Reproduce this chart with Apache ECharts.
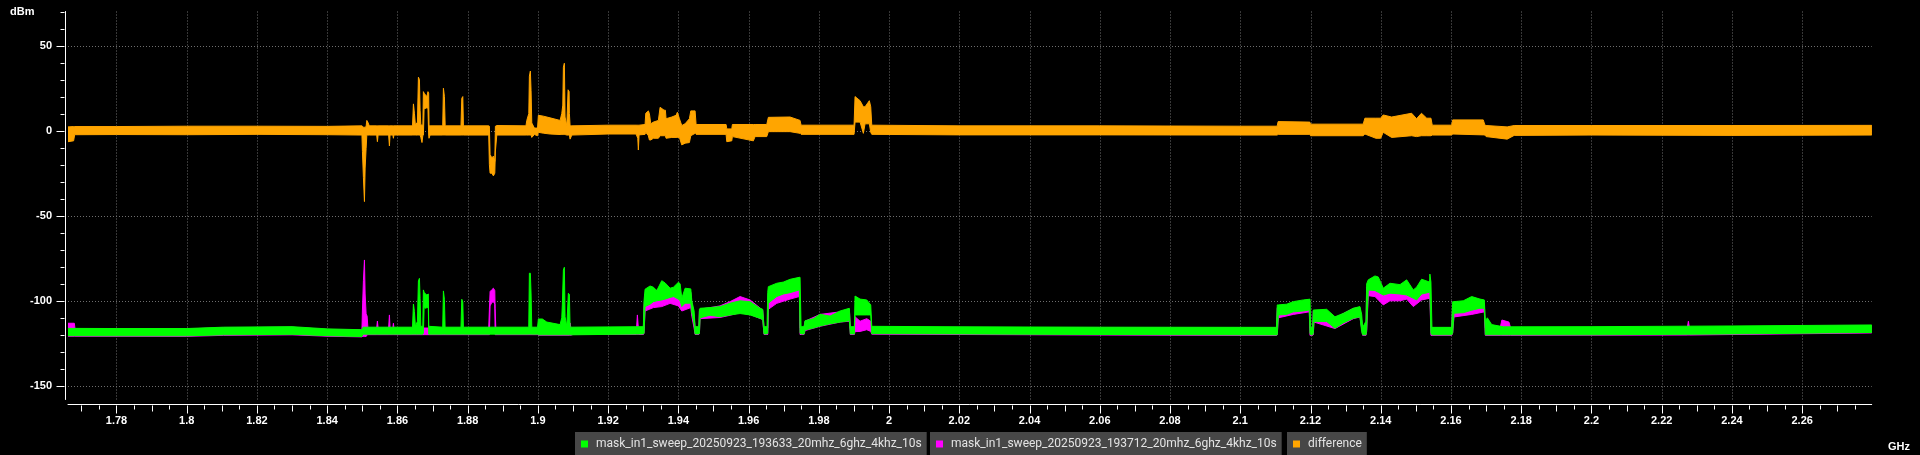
<!DOCTYPE html>
<html><head><meta charset="utf-8">
<script src="https://cdn.jsdelivr.net/npm/echarts@6/dist/echarts.min.js"></script>
<style>html,body{margin:0;padding:0;background:#000;}#c{width:1920px;height:455px;}</style>
</head><body><div id="c"></div><script>
// ---- data (GHz, dBm) : each entry [frequency, band low, band high] ----
const seriesNames = ['mask_in1_sweep_20250923_193633_20mhz_6ghz_4khz_10s','mask_in1_sweep_20250923_193712_20mhz_6ghz_4khz_10s','difference'];
const xTickLabels = [1.78,1.8,1.82,1.84,1.86,1.88,1.9,1.92,1.94,1.96,1.98,2,2.02,2.04,2.06,2.08,2.1,2.12,2.14,2.16,2.18,2.2,2.22,2.24,2.26];
const yTickLabels = [50,0,-50,-100,-150];

const greenBand = [
 [1.7662,-120.5,-116.2],[1.78,-120.6,-116.3],[1.80,-120.6,-116.3],[1.8105,-120,-115.5],[1.83,-119.7,-115.2],[1.84,-120.5,-116.5],[1.8499,-121,-117],[1.8502,-119.6,-115.5],
 [1.8643,-119.6,-115.5],[1.86456,-119.6,-101.9],[1.86484,-119.6,-106.3],[1.86513,-119.6,-115],[1.8657,-119.6,-112],[1.86598,-119.6,-88.3],[1.86627,-119.6,-86.8],[1.86646,-119.6,-98.5],[1.86666,-119.6,-115],[1.86723,-119.6,-115],
 [1.8674,-119,-93.6],[1.8676,-104,-95],[1.8680,-104.4,-96],[1.8684,-104,-96.6],[1.8688,-104,-96],[1.86892,-119.6,-115],
 [1.8729,-119.6,-115.5],[1.8731,-119.6,-94.2],[1.87338,-119.6,-99.1],[1.87358,-119.6,-115.5],
 [1.8781,-119.6,-115.5],[1.87833,-119.6,-99.1],[1.87862,-119.6,-100.7],[1.87879,-119.6,-115.5],
 [1.8974,-119.6,-115.5],[1.89758,-119.6,-83.8],[1.89786,-119.6,-83.8],[1.89806,-119.6,-96],[1.89826,-119.6,-115.5],
 [1.8999,-119.6,-115.5],[1.90014,-120,-110.7],[1.90128,-120,-110.7],[1.90254,-120,-112.5],[1.90632,-120,-114],[1.9068,-120,-110],[1.90697,-120,-101.9],[1.90726,-120,-81.9],[1.90754,-120,-80.3],[1.90774,-120,-109.4],[1.90823,-120,-115],[1.90868,-120,-95.6],[1.90897,-120,-96.2],[1.90917,-120,-115.5],
 [1.93003,-119.5,-115.2],[1.93023,-119,-100],[1.93052,-103.4,-93.2],[1.93194,-102,-91.3],[1.93289,-100.5,-92],[1.93386,-100,-94],[1.93527,-99.5,-88.2],[1.93623,-99,-89.5],[1.93765,-98,-92.6],[1.9386,-97.5,-92],[1.94002,-99,-89.1],[1.9405,-100,-90],[1.94098,-103.4,-98.5],[1.94192,-101.4,-92.6],[1.94354,-101.4,-93],[1.94383,-107,-100],[1.94448,-114,-106],[1.94476,-119.5,-115.2],
 [1.94582,-119.5,-115.2],[1.946,-119,-105],[1.94618,-110,-104.4],[1.94903,-108.5,-104],[1.95187,-109.4,-103.4],[1.95472,-108.3,-101.4],[1.95757,-107.5,-100],[1.96041,-108.3,-100.5],[1.96326,-110.3,-104.4],[1.96402,-111,-105],[1.96439,-119.5,-115.2],
 [1.96525,-119.5,-115.2],[1.96545,-119,-95],[1.96562,-101.4,-91.7],[1.96801,-97.5,-89.7],[1.9699,-96,-89],[1.9718,-95.2,-87.4],[1.97445,-93.6,-86.2],[1.97465,-119,-86.2],[1.97494,-119.5,-115.2],
 [1.97579,-119.5,-115.2],[1.97607,-117.1,-111.7],[1.97844,-116,-110.5],[1.98034,-114.8,-107.9],[1.98319,-113.5,-109],[1.98604,-112.5,-106],[1.98869,-111.7,-104.4],[1.98897,-119.5,-115.2],
 [1.99011,-119.5,-115.2],[1.99031,-108.3,-97.2],[1.99174,-108.3,-99],[1.99364,-108.3,-99.5],[1.99478,-108.3,-102.4],[1.99507,-119.3,-115],
 [2.02,-119.5,-115.3],[2.06,-119.8,-115.5],[2.1103,-120.1,-115.6],
 [2.11054,-120,-102.4],[2.11083,-108.3,-102.4],[2.11322,-108,-102],[2.11509,-106.5,-100.5],[2.11794,-106,-99.5],[2.11965,-105.4,-99.1],[2.11985,-119,-99],[2.12005,-120,-115.6],[2.12062,-120,-115.6],[2.12079,-119,-105.4],[2.12099,-112.2,-105.4],[2.1246,-112.2,-105],[2.12697,-116.1,-109.4],[2.12933,-113,-107.4],[2.13218,-110.3,-104.4],[2.13408,-109.4,-103.4],[2.13457,-118,-108],[2.13485,-120,-115.6],[2.1358,-120,-112],[2.13599,-117,-90],
 [2.13645,-93.6,-87.7],[2.13835,-94,-85.4],[2.1393,-95,-86],[2.14072,-96.6,-92.6],[2.14263,-95.5,-89.7],[2.14548,-96,-90.5],[2.14738,-96.6,-87.7],[2.14927,-98.5,-93.6],[2.15022,-99.5,-92],[2.15164,-96,-87.3],[2.1539,-95,-89],[2.154,-95,-84.3],[2.15429,-119,-89],[2.15458,-120,-115.6],
 [2.16019,-120,-115.6],[2.16048,-119,-100.5],[2.16085,-107.3,-100.5],[2.1635,-107,-100],[2.1659,-105.5,-97.5],[2.16826,-104.4,-99],[2.16949,-104.4,-99.5],[2.16978,-120,-112],[2.17035,-120,-110],[2.1716,-120,-114],[2.175,-120,-115.3],
 [2.20,-120,-115.2],[2.24,-119.5,-114.8],[2.2798,-118.6,-114.2]
];

const magentaBand = [
 [1.7662,-120.8,-113.2],[1.7680,-120.8,-113.2],[1.7682,-120.8,-116.5],[1.80,-120.9,-116.5],[1.8105,-120.3,-115.8],[1.83,-120,-115.5],[1.84,-120.8,-116.8],[1.8499,-121.2,-117.2],
 [1.85004,-121,-105.4],[1.85032,-121,-88.2],[1.85061,-121,-76],[1.85081,-121,-96],[1.85109,-121,-107.7],[1.85137,-120,-109],[1.8516,-119.9,-116],
 [1.8541,-119.9,-116],[1.8543,-119.9,-111.9],[1.8545,-119.9,-116],
 [1.8575,-119.9,-116],[1.85772,-119.9,-108.3],[1.8579,-119.9,-116],
 [1.8587,-119.9,-116],[1.85886,-119.9,-113.2],[1.8590,-119.9,-116],
 [1.8860,-119.9,-116],[1.88619,-119.9,-105],[1.88639,-103,-94.6],[1.88687,-101,-93.5],[1.88733,-100.5,-92.6],[1.88773,-102,-94],[1.88782,-119.9,-104.4],[1.88802,-119.9,-116],
 [1.8999,-119.9,-116],[1.90014,-120.2,-116],[1.9090,-120.2,-116],[1.90917,-120.2,-113],[1.9094,-120.2,-116],[1.9100,-119.8,-116],
 [1.9281,-119.8,-116],[1.92833,-119.8,-108.3],[1.9286,-119.8,-116],
 [1.93003,-119.8,-116],[1.93023,-119,-103],[1.93052,-106,-96],[1.93289,-104,-95],[1.93527,-103.4,-92],[1.93765,-101.5,-95.6],[1.94002,-103,-92.5],[1.94098,-106,-100],[1.94354,-104,-95],[1.94383,-109,-102],[1.94448,-116,-109],[1.94476,-119.8,-116],
 [1.94582,-119.8,-116],[1.946,-119,-106],[1.94618,-110.5,-105],[1.95187,-109.8,-103],[1.95472,-108.5,-100.5],[1.95757,-107,-97.5],[1.96041,-108,-99.5],[1.96402,-111,-105.5],[1.96439,-119.8,-116],
 [1.96545,-119.8,-116],[1.96562,-105,-96],[1.96801,-101.5,-94],[1.9718,-99,-92],[1.97445,-97.5,-90.5],[1.97465,-119.8,-116],
 [1.97579,-119.8,-116],[1.97607,-117.5,-112],[1.98034,-115,-108],[1.98604,-112.5,-106.5],[1.98869,-112,-105],[1.98897,-119.8,-116],
 [1.99011,-119.8,-116],[1.99031,-118.1,-109.4],[1.99174,-118,-112],[1.99364,-117,-110.5],[1.99478,-118,-112],[1.99507,-119.6,-116],
 [2.02,-119.8,-115.6],[2.06,-120.1,-115.8],[2.1103,-120.4,-116],[2.11054,-120,-104],[2.11083,-110,-104],[2.11509,-108,-102],[2.11965,-106.5,-100.5],[2.11985,-120.3,-116],
 [2.12062,-120.3,-116],[2.12079,-120,-106],[2.12099,-112.5,-106],[2.12697,-116.3,-110],[2.13218,-110.5,-104.5],[2.13408,-109.5,-104],[2.13485,-120.3,-116],
 [2.1358,-120.3,-116],[2.13599,-118,-92],[2.13645,-97,-91],[2.13835,-97.5,-88],[2.14072,-102.4,-95],[2.14263,-100,-93],[2.14548,-100,-93.5],[2.14738,-99,-91],[2.14927,-103.4,-97],[2.15164,-99.5,-91],[2.154,-98.5,-92],[2.15429,-120.3,-116],
 [2.16019,-120.3,-116],[2.16048,-119,-103],[2.16085,-109.5,-103],[2.1659,-108,-100],[2.16949,-106.5,-101.5],[2.16978,-120.3,-116],
 [2.1740,-120.3,-116],[2.1745,-120.3,-111.3],[2.1765,-120.3,-112.5],[2.1770,-120.3,-116],
 [2.2273,-120.1,-115.8],[2.2276,-120.1,-112],[2.2279,-120.1,-115.8],[2.2798,-118.9,-114.5]
];

const diffBand = [
 [1.7662,-6.5,2.2],[1.7678,-6,2.4],[1.7681,-2.4,2.4],[1.78,-2.3,2.4],[1.80,-2.4,2.6],[1.82,-2.2,2.6],[1.84,-2.4,2.5],
 [1.8499,-2.6,2.8],[1.85004,-12.3,2.6],[1.85032,-27.6,2],[1.85061,-41.7,2],[1.85081,-22,2],[1.85109,-10.4,2.6],[1.85129,-2.6,6],[1.85157,-2.6,5],[1.8520,-2.6,2.8],
 [1.8541,-2.6,2.8],[1.8543,-6.5,2.8],[1.8545,-2.6,2.8],
 [1.8575,-2.6,2.8],[1.85772,-9,2.8],[1.8579,-2.6,2.8],
 [1.8587,-2.6,2.8],[1.85886,-4.5,2.8],[1.8590,-2.6,2.8],
 [1.8643,-2.6,2.8],[1.86456,-2.6,15.7],[1.86484,-2.6,10.2],[1.86513,-2.6,3.2],[1.8657,-2.6,5],[1.86598,-2.6,31.4],[1.86627,-2.6,30],[1.86646,-2.6,12],[1.86666,-4,3.5],[1.8670,-7,3.2],[1.86725,-2.6,3.5],
 [1.8674,-2.6,22.9],[1.8676,13,22],[1.8680,13,21],[1.8684,13.5,20],[1.8687,13,22.9],[1.8689,-2.6,22],[1.86900,-4.5,2.8],[1.8693,-2.6,2.8],
 [1.8729,-2.6,2.8],[1.8731,-2.6,24.9],[1.87338,-2.6,20],[1.8736,-2.6,2.8],
 [1.8781,-2.6,2.8],[1.87833,-2.6,19],[1.87862,-2.6,20],[1.8788,-2.6,2.8],
 [1.8860,-2.6,2.8],[1.88619,-20,2.6],[1.88639,-25,-14],[1.88687,-25,-16],[1.88733,-26.6,-15],[1.88773,-25,-18],[1.8879,-12,2.6],[1.8883,-2.6,3],
 [1.8966,-2.6,2.8],[1.89684,-2.6,6],[1.89741,-2.6,10],[1.89758,-2.6,32],[1.89786,-2.6,35],[1.89806,-2.6,23.5],[1.89826,-4,4.5],[1.8990,-2.3,1.5],[1.8999,-3,1.5],
 [1.90014,-1,9],[1.90157,-1.5,8.5],[1.90348,-2,7.5],[1.90632,-2.3,6],[1.9068,-2.3,10],[1.90709,-2.3,15],[1.90726,-2.3,37.2],[1.90754,-2.3,39.6],[1.90774,-2.3,8],[1.90823,-2.6,2.8],[1.9086,-2.6,24],[1.90889,-2.6,23],[1.90897,-2.6,10],[1.90917,-5,2.8],[1.90966,-2.6,2.8],
 [1.92,-2,3.2],[1.92796,-2,3.2],[1.92844,-4.5,3.2],[1.92861,-11.4,3.2],[1.92881,-2.5,3.2],
 [1.93052,-2.2,3.6],[1.93072,-1,10.2],[1.93146,-3,11.6],[1.93175,-5.5,10],[1.93215,-5.5,4],[1.93289,-4.5,5],[1.93431,-4.5,6],[1.9348,-3,13.7],[1.93593,-3,12],[1.9363,-3,12],[1.9365,-4.5,7],[1.93813,-4,8],[1.93935,-4,9],[1.93972,-4,10.8],[1.9403,-4,7],[1.94097,-8.4,3],[1.94191,-7.4,4],[1.94314,-7,7],[1.94354,-3,11.6],[1.94476,-1.6,11.6],[1.94505,-2.2,3.6],
 [1.95359,-2.2,3.6],[1.95379,-6.5,1],[1.95521,-6,1],[1.95538,-3.5,3.6],[1.96136,-6,3.6],[1.96184,-3.5,3.6],[1.96517,-3.5,3.6],[1.96563,-0.6,7.8],[1.9718,-0.6,8],[1.97465,-1.6,6],[1.97494,-2.2,3.2],
 [1.99003,-2.2,3.2],[1.99031,5,20],[1.99174,5,17.6],[1.99268,-1.6,14],[1.99316,4,14],[1.99438,4,17.6],[1.99478,-1,14],[1.99507,-2.2,3.2],
 [2.02,-2.5,2.8],[2.06,-2.5,2.8],[2.10,-2.6,2.6],[2.1105,-2.6,2.6],
 [2.11078,-2.2,5.3],[2.11982,-2.2,5],[2.12,-3,3.8],[2.1350,-3,3.8],[2.13549,-2,7.3],[2.13862,-4.5,7.3],[2.13997,-4.5,7.3],[2.1407,-1,9.2],[2.1431,-4,8],[2.1488,-3,10.2],[2.1502,-3.5,7],[2.1516,-3,10.2],[2.1531,-3,7.3],[2.1543,-3,7.3],[2.15467,-2.6,3.2],
 [2.16019,-2.6,3.2],[2.16048,-2,6.3],[2.16919,-2.5,6.3],[2.16967,-2.6,3.2],[2.1700,-3.5,3],[2.1760,-5,2.2],[2.1780,-2.8,3],[2.20,-2.6,3],[2.24,-2.8,3],[2.2798,-2.6,3.1]
];

// ---- presentation ----
const X_MIN = 1.7662, X_MAX = 2.2798, Y_MIN = -158, Y_MAX = 70;
const colors = ['#00ff00', '#ff00ff', '#ffa500'];
const gridColor = '#6e6e6e';
const xMidTicks = []; for (let v = 177; v <= 227; v += 2) xMidTicks.push(v / 100);
const xMinorTicks = []; for (let v = 3550; v <= 4550; v += 20) xMinorTicks.push(v / 2000);
const yMinorTicks = []; for (let v = -140; v <= 70; v += 10) if (v % 50 !== 0) yMinorTicks.push(v);

const axisFont = { color: '#ffffff', fontFamily: 'Liberation Sans, Arial, sans-serif', fontWeight: 'bold', fontSize: 11 };

function bandSeries(name, color, band, z) {
  return {
    name, type: 'custom', z, coordinateSystem: 'cartesian2d', clip: true, silent: true,
    itemStyle: { color }, encode: { x: 0, y: [1, 2] }, data: band,
    renderItem(params, api) {
      if (params.dataIndex !== 0) return null;
      const pts = [];
      for (const p of band) pts.push(api.coord([p[0], p[2]]));
      for (let i = band.length - 1; i >= 0; i--) pts.push(api.coord([band[i][0], band[i][1]]));
      return { type: 'polygon', shape: { points: pts }, style: { fill: color, stroke: color, lineWidth: 1, lineJoin: 'bevel' } };
    }
  };
}

// grid lines and tick marks, placed through the axes' own scales
const frameSeries = {
  name: 'frame', type: 'custom', coordinateSystem: 'cartesian2d', clip: false, silent: true, z: 1,
  data: [[X_MIN, Y_MIN]],
  renderItem(params, api) {
    const children = [];
    const snap = v => Math.round(v) + 0.5;
    const yTop = api.coord([X_MIN, Y_MAX])[1], yBot = api.coord([X_MIN, Y_MIN])[1];
    const xL = api.coord([X_MIN, 0])[0], xR = api.coord([X_MAX, 0])[0];
    const dash = { stroke: gridColor, lineWidth: 1, lineDash: [1, 2] };
    const solid = { stroke: '#ffffff', lineWidth: 1 };
    for (const v of xTickLabels) { const x = snap(api.coord([v, 0])[0]); children.push({ type: 'line', shape: { x1: x, y1: yTop, x2: x, y2: yBot }, style: dash }); }
    for (const v of yTickLabels) { const y = snap(api.coord([X_MIN, v])[1]); children.push({ type: 'line', shape: { x1: xL, y1: y, x2: xR, y2: y }, style: dash }); }
    const axY = Math.round(yBot) + 5 + 0.5;
    const addX = (vals, len) => { for (const v of vals) { const x = snap(api.coord([v, 0])[0]); children.push({ type: 'line', shape: { x1: x, y1: axY, x2: x, y2: axY + len }, style: solid }); } };
    addX(xTickLabels, 8); addX(xMidTicks, 6); addX(xMinorTicks, 4);
    const axX = Math.round(xL) - 3 - 0.5;
    const addY = (vals, len) => { for (const v of vals) { const y = snap(api.coord([X_MIN, v])[1]); children.push({ type: 'line', shape: { x1: axX, y1: y, x2: axX - len, y2: y }, style: solid }); } };
    addY(yTickLabels, 8); addY(yMinorTicks, 4);
    return { type: 'group', children };
  }
};

const legendLefts = [575, 930, 1287];
const chart = echarts.init(document.getElementById('c'), null, { renderer: 'canvas' });
chart.setOption({
  backgroundColor: '#000000',
  animation: false,
  grid: { left: 68, right: 48.3, top: 11.5, bottom: 55.5, containLabel: false },
  xAxis: {
    type: 'value', position: 'bottom', offset: 5, min: X_MIN, max: X_MAX,
    axisLine: { show: true, onZero: false, lineStyle: { color: '#ffffff', width: 1 } },
    axisTick: { show: false },
    axisLabel: { show: true, customValues: xTickLabels, margin: 11, formatter: v => String(+v.toFixed(3)), ...axisFont },
    splitLine: { show: false }, minorSplitLine: { show: false }, minorTick: { show: false }
  },
  yAxis: {
    type: 'value', position: 'left', offset: 3, min: Y_MIN, max: Y_MAX,
    axisLine: { show: true, onZero: false, lineStyle: { color: '#ffffff', width: 1 } },
    axisTick: { show: false },
    axisLabel: { show: true, customValues: yTickLabels, margin: 13, ...axisFont },
    splitLine: { show: false }, minorSplitLine: { show: false }, minorTick: { show: false }
  },
  legend: seriesNames.map((n, i) => ({
    data: [n], left: legendLefts[i], top: 432, orient: 'horizontal',
    backgroundColor: '#474747', padding: [5, 5, 4, 6], borderRadius: 0,
    icon: 'rect', itemWidth: 7, itemHeight: 7, selectedMode: false,
    formatter: ' {name}',
    textStyle: { color: '#e4e4e4', fontFamily: 'Roboto', fontSize: 12, lineHeight: 14 }
  })),
  graphic: [
    { type: 'text', x: 10, y: 11.5, style: { text: 'dBm', fill: '#ffffff', font: 'bold 11px "Liberation Sans", Arial', verticalAlign: 'middle' } },
    { type: 'text', x: 1888, y: 446.5, style: { text: 'GHz', fill: '#ffffff', font: 'bold 11px "Liberation Sans", Arial', verticalAlign: 'middle' } }
  ],
  series: [
    frameSeries,
    bandSeries(seriesNames[0], colors[0], greenBand, 4),
    bandSeries(seriesNames[1], colors[1], magentaBand, 3),
    bandSeries(seriesNames[2], colors[2], diffBand, 3)
  ]
});
</script></body></html>
